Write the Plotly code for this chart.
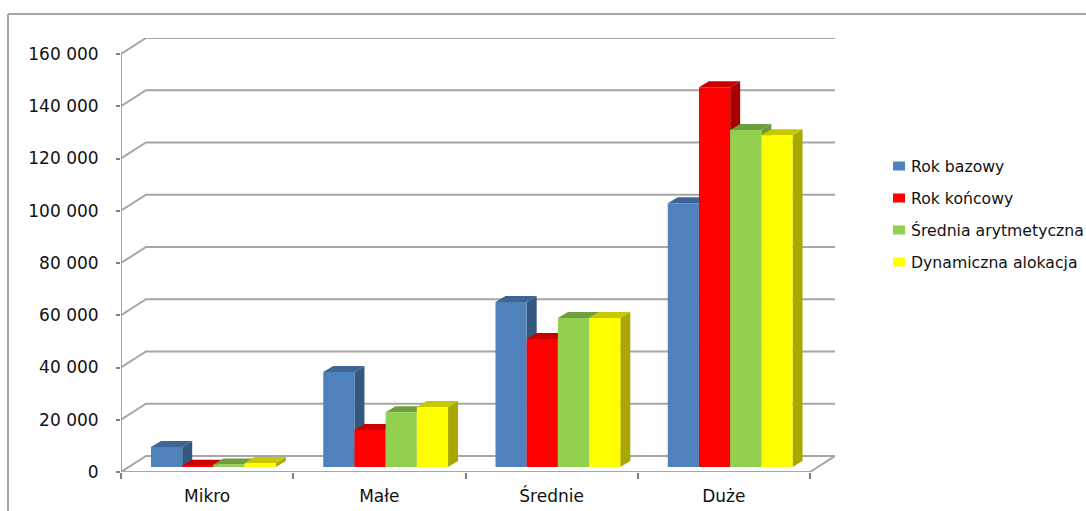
import plotly.graph_objects as go

# Chart data
categories = ["Mikro", "Małe", "Średnie", "Duże"]
series_names = ["Rok bazowy", "Rok końcowy", "Średnia arytmetyczna", "Dynamiczna alokacja"]
rok_bazowy = [7700, 36400, 63200, 101000]
rok_koncowy = [500, 14200, 49000, 145400]
srednia = [1000, 21000, 57000, 129000]
dynamiczna = [1500, 23000, 57000, 127000]
y_ticks = [0, 20000, 40000, 60000, 80000, 100000, 120000, 140000, 160000]
y_tick_labels = ["0", "20 000", "40 000", "60 000", "80 000", "100 000", "120 000", "140 000", "160 000"]

# Colours per series: front, side, top
front_colors = ["#4f81bd", "#ff0000", "#92d050", "#ffff00"]
side_colors = ["#35587f", "#a80000", "#6b9a3a", "#a8a800"]
top_colors = ["#3e6596", "#c80000", "#6f9e3d", "#c8c800"]
GRID = "#a6a6a6"

W, H = 1086, 511
# Pixel scale of the oblique projection
px_per_cat = 172.25
px_per_val = 418 / 160000
LEFT, BOTTOM = 121, 472
depth_dx = 25 / px_per_cat
depth_dy = 16 / px_per_val
bar_w = 31.2 / px_per_cat
bar_start = 30 / px_per_cat
bar_base = 5 / px_per_val
side_dx = 10 / px_per_cat
side_dy = 6 / px_per_val

x_max = 4 + depth_dx
y_max = 160000 + depth_dy

fig = go.Figure()


def poly(xs, ys, color):
    fig.add_trace(go.Scatter(x=xs, y=ys, mode="lines", fill="toself", fillcolor=color,
                             line=dict(width=0, color=color), hoverinfo="skip",
                             showlegend=False, cliponaxis=False, zorder=1))


# Walls and floor of the chart box
wall_x, wall_y = [], []
for v in y_ticks[1:]:
    wall_x += [0, depth_dx, x_max, None]
    wall_y += [v, v + depth_dy, v + depth_dy, None]
wall_x += [0, depth_dx, x_max, 4, 0, 0]
wall_y += [0, depth_dy, depth_dy, 0, 0, 160000]
fig.add_trace(go.Scatter(x=wall_x, y=wall_y, mode="lines", line=dict(color=GRID, width=2),
                         hoverinfo="skip", showlegend=False, cliponaxis=False, zorder=0))

# Side and top faces, series by series from left to right
all_values = [rok_bazowy, rok_koncowy, srednia, dynamiczna]
for s, values in enumerate(all_values):
    sx, sy, tx, ty = [], [], [], []
    for c, v in enumerate(values):
        x0 = c + bar_start + s * bar_w
        x1 = x0 + bar_w
        top = bar_base + v
        sx += [x1, x1 + side_dx, x1 + side_dx, x1, x1, None]
        sy += [bar_base, bar_base + side_dy, top + side_dy, top, bar_base, None]
        tx += [x0, x1, x1 + side_dx, x0 + side_dx, x0, None]
        ty += [top, top, top + side_dy, top + side_dy, top, None]
    poly(sx, sy, side_colors[s])
    poly(tx, ty, top_colors[s])

# Front faces
for s, values in enumerate(all_values):
    fig.add_trace(go.Bar(
        x=[c + bar_start + (s + 0.5) * bar_w for c in range(len(categories))],
        y=values, base=bar_base, width=bar_w, name=series_names[s],
        marker=dict(color=front_colors[s], line=dict(width=0)),
        showlegend=False, cliponaxis=False, zorder=2))

# Outer frame: left and top edges only
shapes = [
    dict(type="line", xref="paper", yref="paper", x0=8 / W, x1=8 / W, y0=0, y1=(H - 14) / H,
         line=dict(color=GRID, width=2)),
    dict(type="line", xref="paper", yref="paper", x0=8 / W, x1=1, y0=(H - 14) / H, y1=(H - 14) / H,
         line=dict(color=GRID, width=2)),
]

# Series key on the right: flat swatches with a label beside each
annotations = []
for s, name in enumerate(series_names):
    row_y = 166 + 32 * s
    shapes.append(dict(type="rect", xref="paper", yref="paper",
                       x0=893 / W, x1=905 / W, y0=(H - row_y + 4.5) / H, y1=(H - row_y - 4.5) / H,
                       fillcolor=front_colors[s], line=dict(width=0)))
    annotations.append(dict(xref="paper", yref="paper", x=910 / W, y=(H - row_y) / H,
                            xanchor="left", yanchor="middle", text=name, showarrow=False,
                            borderpad=0, font=dict(size=15.7)))

fig.update_layout(
    width=W, height=H, margin=dict(l=0, r=0, t=0, b=0, autoexpand=False),
    paper_bgcolor="white", plot_bgcolor="white",
    barmode="overlay", showlegend=False,
    font=dict(family="DejaVu Sans", size=16, color="#111111"),
    xaxis=dict(domain=[LEFT / W, (LEFT + 25 + 4 * px_per_cat) / W], range=[0, x_max],
               tickmode="array", tickvals=[c + 0.5 for c in range(4)], ticktext=categories,
               ticks="", showgrid=False, zeroline=False, showline=False,
               ticklabelstandoff=12, tickfont=dict(size=17),
               minor=dict(tickmode="array", tickvals=[0, 1, 2, 3, 4], ticks="outside",
                          ticklen=6, tickwidth=1.5, tickcolor="#808080", showgrid=False)),
    yaxis=dict(domain=[(H - BOTTOM) / H, (H - 38) / H], range=[0, y_max],
               tickmode="array", tickvals=y_ticks, ticktext=y_tick_labels,
               ticks="outside", ticklen=4, tickwidth=1.5, tickcolor="#808080",
               showgrid=False, zeroline=False, showline=False, ticklabelstandoff=14,
               tickfont=dict(size=17)),
    shapes=shapes,
    annotations=annotations,
)

fig.write_html("out.html", config=dict(displayModeBar=False))
